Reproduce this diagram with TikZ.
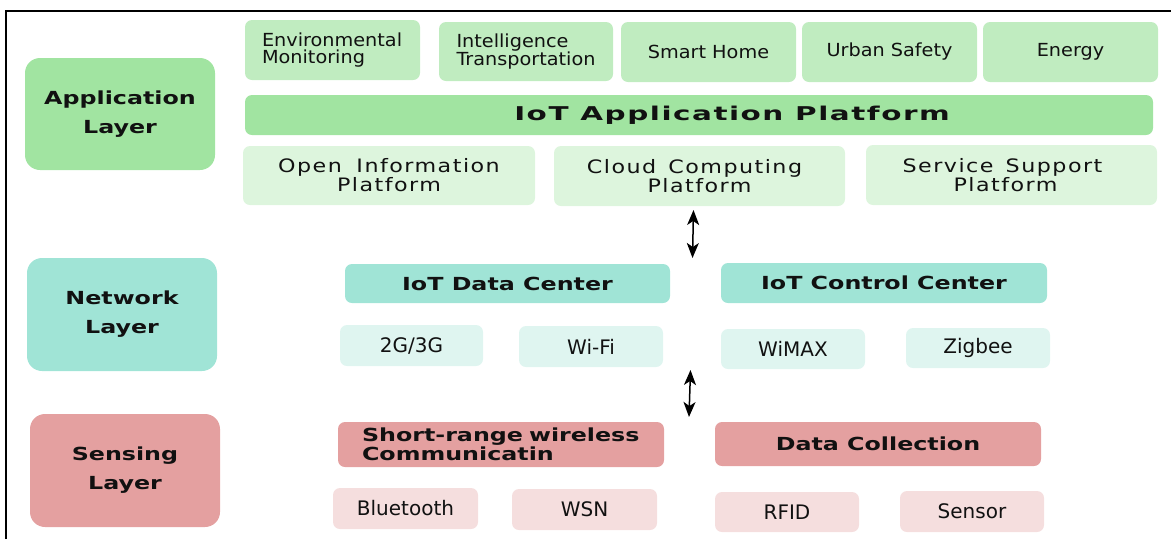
\documentclass[tikz,border=0pt]{standalone}
\usepackage{fontspec}
\setmainfont{DejaVu Sans}
\newfontfamily\regfont{DejaVu Sans}[FakeStretch=1.07]
\newfontfamily\trackfont{DejaVu Sans}[FakeStretch=1.2,LetterSpace=8]
\newfontfamily\wbold{DejaVu Sans}[FakeStretch=1.32]
\newfontfamily\wtitle{DejaVu Sans}[FakeStretch=1.55,LetterSpace=8]
\newcommand\wsp{~\hspace{6pt}}
\usetikzlibrary{arrows.meta}
\definecolor{txt}{HTML}{111111}
\definecolor{appL}{HTML}{A1E4A1}
\definecolor{appM}{HTML}{C0ECC0}
\definecolor{appS}{HTML}{DDF5DD}
\definecolor{netL}{HTML}{A0E4D6}
\definecolor{netS}{HTML}{DFF5F0}
\definecolor{senL}{HTML}{E4A0A0}
\definecolor{senS}{HTML}{F5DEDE}
\tikzset{
  base/.style={inner sep=0pt, align=center, text=txt},
  layerbox/.style={base, rounded corners=15pt, minimum width=190pt, minimum height=113pt,
    font=\wbold\bfseries\fontsize{18}{29}\selectfont},
  smallbox/.style={base, rounded corners=7pt},
  appitem/.style={smallbox, fill=appM, font=\regfont\fontsize{18}{16.5}\selectfont},
  platbox/.style={smallbox, fill=appS, font=\trackfont\fontsize{18.5}{16.5}\selectfont},
  headbox/.style={smallbox, font=\wbold\bfseries\fontsize{18}{17}\selectfont},
  leafbox/.style={smallbox, font=\fontsize{20}{20}\selectfont},
  link/.style={line width=1.5pt, black, {Stealth[length=15pt,width=12pt,inset=4pt]}-{Stealth[length=15pt,width=12pt,inset=4pt]}}
}
\begin{document}
\begin{tikzpicture}[x=1pt,y=-1pt]
\useasboundingbox (0,0) rectangle (1171,539);
% frame
\draw[line width=2pt, black] (6,539) -- (6,10.5) -- (1171,10.5);
% layer boxes
\node[layerbox, fill=appL, minimum height=112pt] (appLayer) at (120,114) {Application\\Layer};
\node[layerbox, fill=netL] (netLayer) at (122,314.5) {Network\\Layer};
\node[layerbox, fill=senL] (senLayer) at (125,470.5) {Sensing\\Layer};
% application items
\node[appitem, minimum height=60pt, text width=141pt, inner xsep=17pt, align=left] (env) at (332.5,50) {Environmental\\Monitoring};
\node[appitem, minimum height=59pt, text width=139pt, inner xsep=17.5pt, align=left] (intel) at (526,51.5) {Intelligence\\Transportation};
\node[appitem, minimum width=175pt, minimum height=60pt] (smart) at (708.5,52) {Smart Home};
\node[appitem, minimum width=175pt, minimum height=60pt] (urban) at (889.5,52) {Urban Safety};
\node[appitem, minimum width=175pt, minimum height=60pt] (energy) at (1070.5,52) {Energy};
\node[smallbox, fill=appL, minimum width=908pt, minimum height=40pt, font=\wtitle\bfseries\fontsize{19}{19}\selectfont] (platform) at (699,115) {\hspace*{66pt}IoT Application Platform};
\node[platbox, minimum width=292pt, minimum height=59pt] (open) at (389,175.5) {Open\wsp Information\\Platform};
\node[platbox, minimum width=291pt, minimum height=60pt, text width=271pt, inner xsep=10pt] (cloud) at (699.5,176) {\hspace*{-10pt}Cloud\wsp Computing\\Platform};
\node[platbox, minimum width=291pt, minimum height=60pt, text width=271pt, inner xsep=10pt] (service) at (1011.5,175) {\hspace*{-18pt}Service\wsp Support\\\hspace*{-12pt}Platform};
% network items
\node[headbox, fill=netL, minimum width=325pt, minimum height=39pt] (datacenter) at (507.5,283.5) {IoT Data Center};
\node[headbox, fill=netL, minimum width=326pt, minimum height=40pt] (control) at (884,283) {IoT Control Center};
\node[leafbox, fill=netS, minimum width=143pt, minimum height=41pt] (g23) at (411.5,345.5) {2G/3G};
\node[leafbox, fill=netS, minimum width=144pt, minimum height=41pt] (wifi) at (591,346.5) {Wi-Fi};
\node[leafbox, fill=netS, minimum width=144pt, minimum height=40pt] (wimax) at (793,349) {WiMAX};
\node[leafbox, fill=netS, minimum width=144pt, minimum height=40pt] (zigbee) at (978,348) {Zigbee};
% sensing items
\node[headbox, fill=senL, minimum height=45pt, text width=278pt, inner xsep=24pt, align=left] (short) at (501,444.5) {Short-range wireless\\Communicatin};
\node[headbox, fill=senL, minimum width=326pt, minimum height=44pt] (datacoll) at (878,444) {Data Collection};
\node[leafbox, fill=senS, minimum width=145pt, minimum height=41pt] (bt) at (405.5,508.5) {Bluetooth};
\node[leafbox, fill=senS, minimum width=145pt, minimum height=41pt] (wsn) at (584.5,509.5) {WSN};
\node[leafbox, fill=senS, minimum width=144pt, minimum height=40pt] (rfid) at (787,512) {RFID};
\node[leafbox, fill=senS, minimum width=144pt, minimum height=41pt] (sensor) at (972,511.5) {Sensor};
% arrows
\coordinate (a1top) at (693.5,210);
\coordinate (a1bot) at (692.5,258);
\coordinate (a2top) at (690.5,370);
\coordinate (a2bot) at (689,417);
\draw[link] (a1top) -- (a1bot);
\draw[link] (a2top) -- (a2bot);
\end{tikzpicture}
\end{document}
